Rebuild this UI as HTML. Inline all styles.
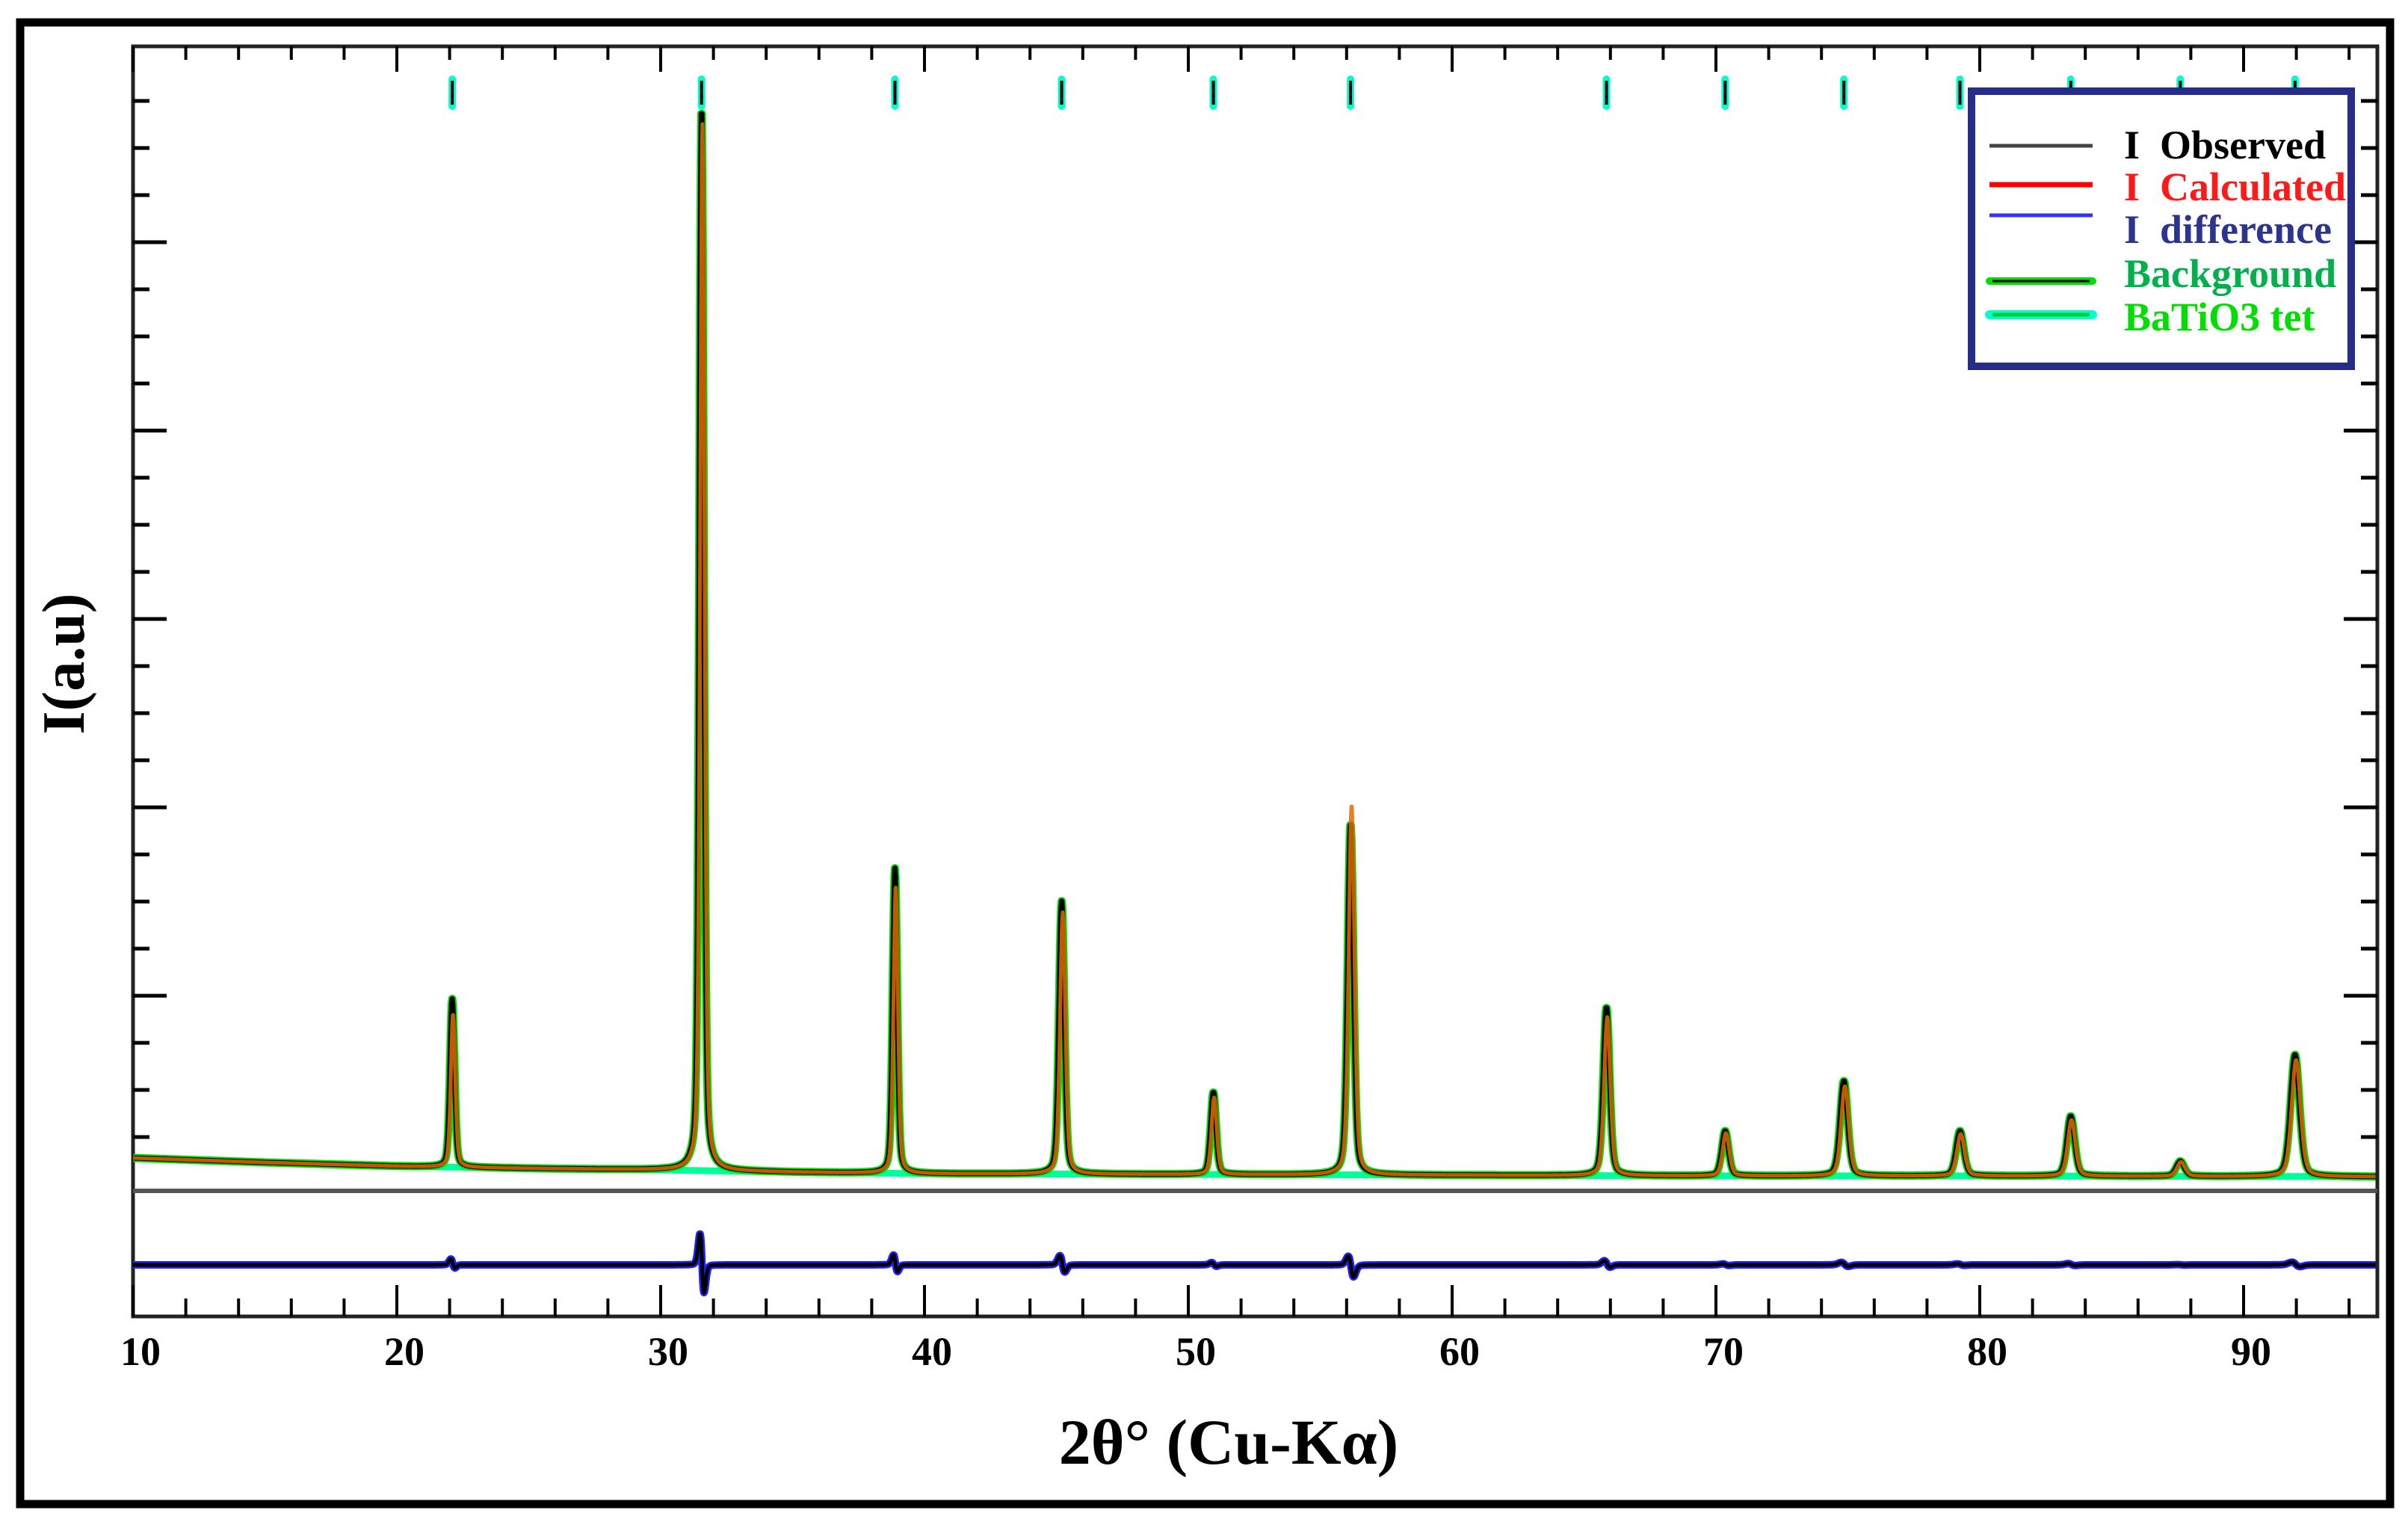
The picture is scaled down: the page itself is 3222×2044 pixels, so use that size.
<!DOCTYPE html>
<html><head><meta charset="utf-8">
<style>
html,body{margin:0;padding:0;background:#fff;}
svg{display:block;}
text{font-family:"Liberation Serif",serif;font-weight:bold;}
</style></head>
<body>
<svg id="chart" width="3222" height="2044" viewBox="0 0 3222 2044" xmlns="http://www.w3.org/2000/svg">
<rect x="0" y="0" width="3222" height="2044" fill="#fff"/>
<rect x="27" y="30" width="3171" height="1982" fill="none" stroke="#000" stroke-width="11"/>
<g id="axes"></g>
<g id="series"></g>
<text x="0" y="0" transform="translate(112,888) rotate(-90)" text-anchor="middle" font-size="80">I(a.u)</text>
<text x="1644" y="1958" text-anchor="middle" font-size="86">2θ° (Cu-Kα)</text>
<g>
<rect x="2638" y="122" width="508" height="368" fill="#fff" stroke="#262c8c" stroke-width="10"/>
<line x1="2662" y1="195" x2="2800" y2="195" stroke="#444" stroke-width="5"/>
<line x1="2662" y1="247" x2="2800" y2="247" stroke="#ff0000" stroke-width="7"/>
<line x1="2662" y1="288" x2="2800" y2="288" stroke="#3030ff" stroke-width="5"/>
<line x1="2662" y1="376" x2="2800" y2="376" stroke="#00e000" stroke-width="10" stroke-linecap="round"/>
<line x1="2666" y1="376" x2="2796" y2="376" stroke="#000" stroke-width="3"/>
<line x1="2662" y1="421" x2="2800" y2="421" stroke="#00ffcc" stroke-width="12" stroke-linecap="round"/>
<line x1="2666" y1="421" x2="2796" y2="421" stroke="#00cc33" stroke-width="5"/>
<text xml:space="preserve" x="2842" y="212" font-size="54" fill="#000">I  Observed</text>
<text xml:space="preserve" x="2842" y="268" font-size="54" fill="#ff1a1a">I  Calculated</text>
<text xml:space="preserve" x="2842" y="325" font-size="54" fill="#2b3590">I  difference</text>
<text x="2842" y="384" font-size="54" fill="#00b04a">Background</text>
<text x="2842" y="442" font-size="54" fill="#00dd00">BaTiO3 tet</text>
</g>
</svg>
<script>
// ---- data ----
const peakPositions = [22.1, 31.55, 38.88, 45.2, 50.95, 56.15, 65.85, 70.35, 74.85, 79.25, 83.45, 87.6, 91.95];
const observedHeights = [225, 1425, 408, 365, 110, 470, 225, 60, 127, 60, 80, 20, 163];
const calculatedHeights = [205, 1400, 385, 350, 103, 495, 212, 57, 120, 56, 75, 19, 156];
const peakWidths = [0.2, 0.2, 0.2, 0.24, 0.24, 0.26, 0.28, 0.3, 0.34, 0.34, 0.34, 0.36, 0.4];
const calcShift = [0.03, 0.03, 0.03, 0.04, 0.03, 0.04, 0.03, 0.03, 0.04, 0.03, 0.03, 0.03, 0.04];
const backgroundX = [10, 15, 20, 25, 30, 35, 40, 50, 60, 70, 80, 95];
const backgroundY = [26, 20, 15, 12, 10, 7, 5, 4, 3, 2, 2, 1];
const braggPositions = [22.1, 31.55, 38.88, 45.2, 50.95, 56.15, 65.85, 70.35, 74.85, 79.25, 83.45, 87.6, 91.95];
const xTickLabels = ["10","20","30","40","50","60","70","80","90"];

// ---- scales ----
const X0 = 178, XPER = 35.3, XMIN = 10, XMAX = 95;
const sx = v => X0 + (v - XMIN) * XPER;
const BASE = 1575, sy = v => BASE - v;
const DIFF0 = 1692, sd = v => DIFF0 - v * 0.14;
const NS = 'http://www.w3.org/2000/svg';
const axes = document.getElementById('axes');
const series = document.getElementById('series');
function mk(tag, attrs, parent) {
  const e = document.createElementNS(NS, tag);
  for (const k in attrs) e.setAttribute(k, attrs[k]);
  parent.appendChild(e);
  return e;
}
function bg(x) {
  for (let i = 0; i < backgroundX.length - 1; i++) {
    if (x <= backgroundX[i + 1]) {
      const t = (x - backgroundX[i]) / (backgroundX[i + 1] - backgroundX[i]);
      return backgroundY[i] + t * (backgroundY[i + 1] - backgroundY[i]);
    }
  }
  return backgroundY[backgroundY.length - 1];
}
function prof(x, c, w) {
  const d = (x - c) / w;
  return 0.65 * Math.exp(-4 * Math.LN2 * d * d) + 0.35 / (1 + 4 * d * d);
}
function obs(x) {
  let s = bg(x);
  for (let i = 0; i < peakPositions.length; i++) s += observedHeights[i] * prof(x, peakPositions[i], peakWidths[i]);
  return s;
}
function calc(x) {
  let s = bg(x);
  for (let i = 0; i < peakPositions.length; i++) s += calculatedHeights[i] * prof(x, peakPositions[i] + calcShift[i], peakWidths[i]);
  return s;
}

// ---- axes ----
const AX = {top: 62, bottom: 1761, left: 178, right: 3181};
let el;
el = mk('rect', {x: AX.left, y: AX.top, width: AX.right - AX.left, height: AX.bottom - AX.top, fill: 'none', stroke: '#222', 'stroke-width': 5}, axes);


el = mk('line', {x1: AX.left, y1: 1593, x2: AX.right, y2: 1593, stroke: '#555', 'stroke-width': 6}, axes);


for (let v = 10; v <= 95; v += 2) {
  const major = v % 10 === 0;
  const x = sx(v);
  el = mk('line', {x1: x, y1: AX.bottom, x2: x, y2: AX.bottom - (major ? 42 : 24), stroke: '#000', 'stroke-width': 4}, axes);
  
  
  el = mk('line', {x1: x, y1: AX.top, x2: x, y2: AX.top + (major ? 34 : 18), stroke: '#000', 'stroke-width': 4}, axes);
  
  
}
xTickLabels.forEach((t) => {
  el = mk('text', {x: sx(+t) + 10, y: 1826, 'text-anchor': 'middle', 'font-size': 54}, axes);
  el.textContent = t;
  
  
});
for (let k = 0; ; k++) {
  const y = 135 + k * 63;
  if (y > 1560) break;
  const major = (k % 4) === 3;
  const L = major ? 45 : 22;
  el = mk('line', {x1: AX.left, y1: y, x2: AX.left + L, y2: y, stroke: '#000', 'stroke-width': 5}, axes);
  
  
  el = mk('line', {x1: AX.right, y1: y, x2: AX.right - L, y2: y, stroke: '#000', 'stroke-width': 5}, axes);
  
  
}

// ---- series ----
const xs = [];
for (let x = XMIN; x <= XMAX + 1e-9; x += 0.02) xs.push(+x.toFixed(2));
const path = f => xs.map((x, i) => (i ? 'L' : 'M') + sx(x).toFixed(1) + ' ' + f(x).toFixed(1)).join('');

el = mk('path', {d: path(x => sy(bg(x))), fill: 'none', stroke: '#00ff99', 'stroke-width': 9}, series);


el = mk('path', {d: path(x => sy(obs(x))), fill: 'none', stroke: '#00e000', 'stroke-width': 11, 'stroke-linejoin': 'round'}, series);


el = mk('path', {d: path(x => sy(obs(x))), fill: 'none', stroke: '#000', 'stroke-width': 7, 'stroke-linejoin': 'round'}, series);


el = mk('path', {d: path(x => sy(calc(x))), fill: 'none', stroke: '#e06a00', 'stroke-width': 5, 'stroke-linejoin': 'round', opacity: 0.85}, series);


el = mk('path', {d: path(x => sd(obs(x) - calc(x))), fill: 'none', stroke: '#2020ff', 'stroke-width': 10, 'stroke-linejoin': 'round'}, series);


el = mk('path', {d: path(x => sd(obs(x) - calc(x))), fill: 'none', stroke: '#000', 'stroke-width': 5, 'stroke-linejoin': 'round'}, series);



braggPositions.forEach(p => {
  const x = sx(p);
  el = mk('line', {x1: x, y1: 106, x2: x, y2: 142, stroke: '#00ffcc', 'stroke-width': 10, 'stroke-linecap': 'round'}, series);
  
  
  el = mk('line', {x1: x, y1: 108, x2: x, y2: 140, stroke: '#000', 'stroke-width': 4}, series);
  
  
});
</script>
</body></html>
